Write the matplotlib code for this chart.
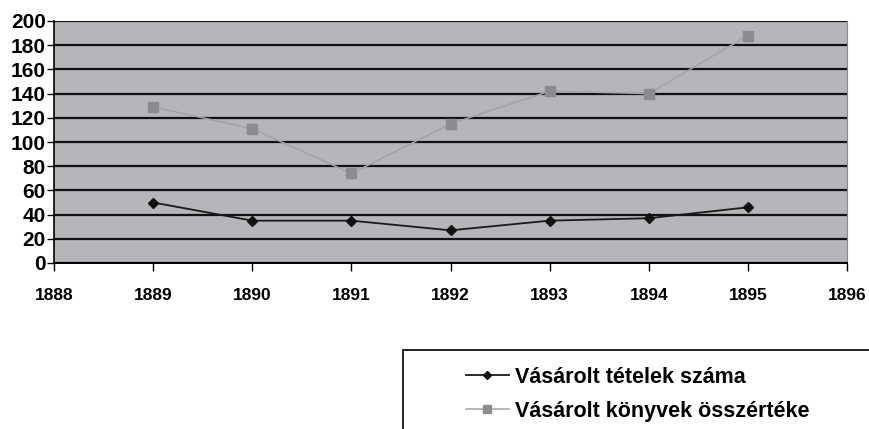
import matplotlib.pyplot as plt
import numpy as np
from matplotlib.patches import Rectangle

plt.rcParams['font.family'] = ['Liberation Sans', 'DejaVu Sans']

years = [1889, 1890, 1891, 1892, 1893, 1894, 1895]
tetelek = [50, 35, 35, 27, 35, 37, 46]
osszertek = [129, 111, 74, 115, 142, 140, 188]
labels = ['Vásárolt tételek száma', 'Vásárolt könyvek összértéke']

fig = plt.figure(figsize=(8.69, 4.29), dpi=100)
ax = fig.add_axes([54 / 869, 166 / 429, 793 / 869, 242 / 429])
ax.set_facecolor('#b6b6ba')

l1, = ax.plot(years, tetelek, color='#1a1a1a', lw=1.3, marker='D', ms=5.5,
              mfc='#111111', mec='#111111', zorder=4)
l2, = ax.plot(years, osszertek, color='#a4a4a8', lw=1.1, marker='s', ms=7,
              mfc='#8c8c8e', mec='#8c8c8e', zorder=3)

ax.set_xlim(1888, 1896)
ax.set_ylim(0, 200)
ax.set_xticks(np.arange(1888, 1897))
ax.set_yticks(np.arange(0, 201, 20))
ax.grid(axis='y', color='#111111', lw=1.6)
ax.set_axisbelow(True)
for t in ax.get_xticklabels():
    t.set_fontweight('bold')
    t.set_fontsize(12.5)
for t in ax.get_yticklabels():
    t.set_fontweight('bold')
    t.set_fontsize(15)
ax.tick_params(axis='x', direction='out', length=6, width=1, pad=12)
ax.tick_params(axis='y', direction='out', length=5, width=1, pad=1)
ax.spines['left'].set_linewidth(1.2)
ax.spines['bottom'].set_linewidth(1.4)
ax.spines['top'].set_visible(False)
ax.spines['right'].set_color('#888888')

# legend box runs past the right and bottom edges of the picture
fig.patches.append(Rectangle((403 / 869, -0.1), 0.6, 1 - 350 / 429 + 0.1,
                             transform=fig.transFigure, fill=False,
                             edgecolor='#111111', lw=1.3))
leg = fig.legend([l1, l2], labels, loc='upper left',
                 bbox_to_anchor=(455 / 869, 1 - 356 / 429),
                 frameon=False, prop={'weight': 'bold', 'size': 15.5},
                 handlelength=2.0, handletextpad=0.3,
                 borderpad=0.0, labelspacing=0.6, markerscale=0.75)

fig.savefig('out.png', dpi=100)
